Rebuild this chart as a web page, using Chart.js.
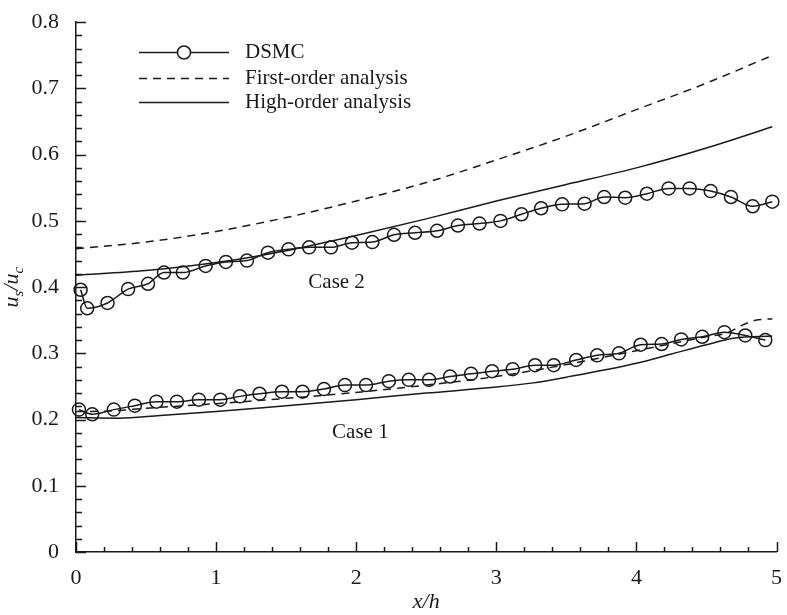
<!DOCTYPE html>
<html>
<head>
<meta charset="utf-8">
<script src="https://cdn.jsdelivr.net/npm/chart.js@4.4.0/dist/chart.umd.min.js"></script>
<style>
  html, body { margin: 0; padding: 0; background: #fff; }
</style>
</head>
<body>
<canvas id="chart" width="787" height="615"></canvas>
<script>
// Values
const xTickValues = [0, 1, 2, 3, 4, 5];
const yTickValues = [0, 0.1, 0.2, 0.3, 0.4, 0.5, 0.6, 0.7, 0.8];

// Case 2 (upper group)
const dsmcCase2X = [0.033, 0.08, 0.225, 0.372, 0.514, 0.628, 0.763, 0.925, 1.07, 1.22, 1.37, 1.517, 1.664, 1.82, 1.97,
  2.115, 2.27, 2.42, 2.577, 2.726, 2.88, 3.03, 3.18, 3.32, 3.47, 3.63, 3.77, 3.92, 4.075, 4.23, 4.38, 4.53, 4.675, 4.83, 4.97];
const dsmcCase2Y = [0.396, 0.368, 0.376, 0.397, 0.405, 0.422, 0.422, 0.432, 0.438, 0.44, 0.452, 0.457, 0.46, 0.46, 0.467,
  0.468, 0.479, 0.482, 0.485, 0.493, 0.496, 0.5, 0.51, 0.519, 0.525, 0.526, 0.536, 0.535, 0.541, 0.549, 0.549, 0.545, 0.536, 0.522, 0.529];
const firstCase2X = [0, 0.5, 1, 1.5, 2, 2.5, 3, 3.5, 4, 4.5, 4.95];
const firstCase2Y = [0.458, 0.468, 0.484, 0.505, 0.53, 0.558, 0.592, 0.628, 0.668, 0.708, 0.748];
const highCase2X = [0, 0.5, 1, 1.5, 2, 2.5, 3, 3.5, 4, 4.5, 4.97];
const highCase2Y = [0.418, 0.425, 0.437, 0.455, 0.478, 0.503, 0.53, 0.555, 0.58, 0.61, 0.642];

// Case 1 (lower group)
const dsmcCase1X = [0.021, 0.116, 0.27, 0.42, 0.574, 0.72, 0.877, 1.03, 1.17, 1.31, 1.47, 1.617, 1.77, 1.92, 2.07, 2.233, 2.375,
  2.52, 2.67, 2.82, 2.97, 3.117, 3.277, 3.41, 3.57, 3.72, 3.876, 4.03, 4.18, 4.32, 4.47, 4.628, 4.777, 4.92];
const dsmcCase1Y = [0.215, 0.208, 0.215, 0.221, 0.227, 0.227, 0.23, 0.23, 0.235, 0.239, 0.242, 0.242, 0.246, 0.252, 0.252, 0.258, 0.26,
  0.26, 0.265, 0.269, 0.273, 0.276, 0.282, 0.282, 0.29, 0.297, 0.30, 0.313, 0.314, 0.321, 0.325, 0.332, 0.327, 0.32];
const firstCase1X = [0, 0.25, 0.5, 1, 1.5, 2, 2.5, 3, 3.5, 4, 4.5, 4.65, 4.75, 4.85, 4.97];
const firstCase1Y = [0.212, 0.213, 0.217, 0.224, 0.232, 0.241, 0.252, 0.265, 0.283, 0.304, 0.325, 0.331, 0.342, 0.35, 0.352];
const highCase1X = [0, 0.3, 0.6, 1, 1.5, 2, 2.5, 3, 3.25, 3.5, 4, 4.25, 4.5, 4.7, 4.97];
const highCase1Y = [0.203, 0.202, 0.206, 0.212, 0.221, 0.23, 0.24, 0.249, 0.255, 0.264, 0.285, 0.299, 0.313, 0.323, 0.326];

const legendLabels = ['DSMC', 'First-order analysis', 'High-order analysis'];
const caseLabels = ['Case 2', 'Case 1'];
const caseLabelX = [1.86, 2.03];
const caseLabelY = [0.407, 0.181];

const INK = '#1a1a1a';
const SERIF = "'Liberation Serif', 'DejaVu Serif', serif";
const LINE_W = 1.5;

function zip(xs, ys) {
    return xs.map((x, i) => ({ x: x, y: ys[i] }));
}

function lineSet(xs, ys, dashed, withPoints) {
    return {
        data: zip(xs, ys),
        borderColor: INK,
        borderWidth: LINE_W,
        borderDash: dashed ? [8, 6] : [],
        backgroundColor: 'rgba(0,0,0,0)',
        pointRadius: withPoints ? 6.5 : 0,
        pointBorderWidth: LINE_W,
        pointBorderColor: INK,
        pointBackgroundColor: 'rgba(0,0,0,0)',
        cubicInterpolationMode: 'monotone',
        fill: false,
        clip: false
    };
}

// inward major/minor ticks on both axes
const inwardTicks = {
    id: 'inwardTicks',
    afterDraw(chart) {
        const { ctx, scales: { x, y } } = chart;
        ctx.save();
        ctx.strokeStyle = INK;
        ctx.lineWidth = LINE_W;
        ctx.beginPath();
        for (let i = 0; i <= 25; i++) {
            const px = Math.round(x.getPixelForValue(i * 0.2)) + 0.5;
            const len = i % 5 === 0 ? 10 : 5;
            ctx.moveTo(px, y.bottom);
            ctx.lineTo(px, y.bottom - len);
        }
        for (let i = 0; i <= 40; i++) {
            const py = Math.round(y.getPixelForValue(i * 0.02)) + 0.5;
            const len = i % 5 === 0 ? 10 : 6;
            ctx.moveTo(x.left, py);
            ctx.lineTo(x.left + len, py);
        }
        ctx.stroke();
        ctx.restore();
    }
};

// y-axis title with subscripts, case labels and the legend
const annotations = {
    id: 'annotations',
    afterDraw(chart) {
        const { ctx, scales: { x, y } } = chart;
        ctx.save();
        ctx.fillStyle = INK;

        // y title: u_s/u_c
        ctx.translate(18, (y.top + y.bottom) / 2);
        ctx.rotate(-Math.PI / 2);
        ctx.textBaseline = 'alphabetic';
        const parts = [['u', false], ['s', true], ['/u', false], ['c', true]];
        const fontFor = sub => sub ? `italic 15px ${SERIF}` : `italic 22px ${SERIF}`;
        let total = 0;
        parts.forEach(p => { ctx.font = fontFor(p[1]); total += ctx.measureText(p[0]).width; });
        let cx = -total / 2;
        parts.forEach(p => {
            ctx.font = fontFor(p[1]);
            ctx.fillText(p[0], cx, p[1] ? 5 : 0);
            cx += ctx.measureText(p[0]).width;
        });
        ctx.setTransform(1, 0, 0, 1, 0, 0);

        // case labels
        ctx.font = `21px ${SERIF}`;
        ctx.textAlign = 'center';
        ctx.textBaseline = 'middle';
        caseLabels.forEach((t, i) => {
            ctx.fillText(t, x.getPixelForValue(caseLabelX[i]), y.getPixelForValue(caseLabelY[i]));
        });

        // legend
        const rows = [52, 78, 102];
        const x0 = 139, x1 = 229;
        ctx.strokeStyle = INK;
        ctx.lineWidth = LINE_W;
        rows.forEach((ry, i) => {
            ctx.setLineDash(i === 1 ? [8, 6] : []);
            ctx.beginPath();
            ctx.moveTo(x0, ry + 0.5);
            ctx.lineTo(x1, ry + 0.5);
            ctx.stroke();
        });
        ctx.setLineDash([]);
        ctx.fillStyle = '#fff';
        ctx.beginPath();
        ctx.arc(184, rows[0] + 0.5, 6.5, 0, Math.PI * 2);
        ctx.fill();
        ctx.stroke();
        ctx.fillStyle = INK;
        ctx.textAlign = 'left';
        legendLabels.forEach((t, i) => ctx.fillText(t, 245, rows[i]));
        ctx.restore();
    }
};

new Chart(document.getElementById('chart'), {
    type: 'line',
    data: {
        datasets: [
            lineSet(dsmcCase2X, dsmcCase2Y, false, true),
            lineSet(firstCase2X, firstCase2Y, true, false),
            lineSet(highCase2X, highCase2Y, false, false),
            lineSet(dsmcCase1X, dsmcCase1Y, false, true),
            lineSet(firstCase1X, firstCase1Y, true, false),
            lineSet(highCase1X, highCase1Y, false, false)
        ]
    },
    options: {
        responsive: false,
        animation: false,
        layout: { padding: { top: 13, right: 8, left: 0, bottom: 0 } },
        plugins: { legend: { display: false }, tooltip: { enabled: false } },
        scales: {
            x: {
                type: 'linear',
                min: 0,
                max: 5,
                afterFit: s => { s.height = 63; },
                afterBuildTicks: s => { s.ticks = xTickValues.map(v => ({ value: v })); },
                grid: { display: false },
                border: { color: INK, width: LINE_W },
                ticks: { color: INK, font: { family: SERIF, size: 22 }, padding: 5, maxRotation: 0 },
                title: { display: true, text: 'x/h', color: INK, padding: 0,
                         font: { family: SERIF, size: 22, style: 'italic' } }
            },
            y: {
                type: 'linear',
                min: 0,
                max: 0.8,
                afterFit: s => { s.width = 76; },
                afterBuildTicks: s => { s.ticks = yTickValues.map(v => ({ value: v })); },
                grid: { display: false },
                border: { color: INK, width: LINE_W },
                ticks: { color: INK, font: { family: SERIF, size: 22 }, padding: 9,
                         callback: v => v === 0 ? '0' : v.toFixed(1) }
            }
        }
    },
    plugins: [inwardTicks, annotations]
});
</script>
</body>
</html>
